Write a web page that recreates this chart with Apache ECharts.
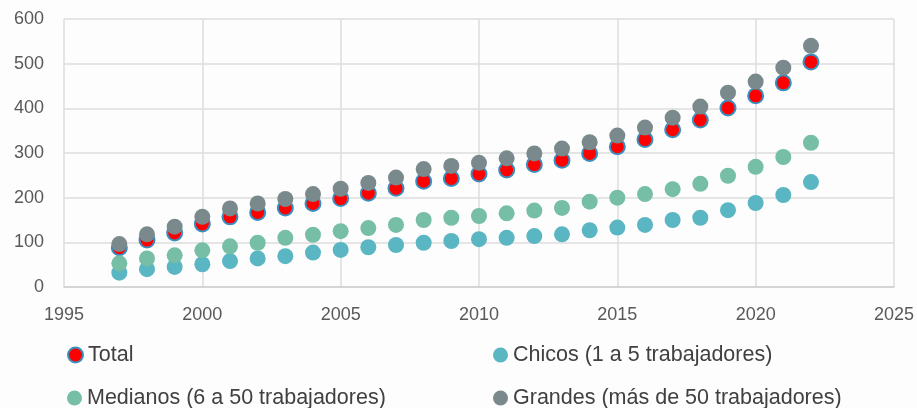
<!DOCTYPE html>
<html>
<head>
<meta charset="utf-8">
<script src="https://cdn.jsdelivr.net/npm/echarts@6/dist/echarts.min.js"></script>
<style>
  html, body { margin: 0; padding: 0; background: #fdfdfd; }
  #main { width: 917px; height: 408px; }
</style>
</head>
<body>
<div id="main"></div>
<script>
var years = [1997, 1998, 1999, 2000, 2001, 2002, 2003, 2004, 2005, 2006, 2007, 2008, 2009,
  2010, 2011, 2012, 2013, 2014, 2015, 2016, 2017, 2018, 2019, 2020, 2021, 2022];
var total = [88, 105, 121, 141, 157, 167, 177, 187, 198, 210, 221, 237, 243,
  253, 262, 274, 284, 299, 314, 330, 352, 374, 401, 428, 457, 504];
var chicos = [32, 40, 45, 51, 58, 64, 69, 77, 83, 89, 94, 99, 103,
  107, 110, 114, 118, 127, 133, 139, 150, 155, 172, 188, 206, 235];
var medianos = [53, 64, 71, 82, 91, 99, 110, 117, 125, 132, 139, 150, 155,
  159, 165, 171, 177, 191, 200, 208, 219, 231, 249, 269, 291, 323];
var grandes = [96, 118, 135, 157, 176, 187, 197, 208, 220, 233, 245, 264, 271,
  278, 288, 299, 310, 324, 339, 357, 379, 404, 435, 460, 491, 540];

var names = ['Total', 'Chicos (1 a 5 trabajadores)', 'Medianos (6 a 50 trabajadores)', 'Grandes (más de 50 trabajadores)'];

function pairs(vals) {
  return years.map(function (y, i) { return [y, vals[i]]; });
}

var chartDom = document.getElementById('main');
var myChart = echarts.init(chartDom);

// una leyenda por entrada, para fijar la posición de cada una
function leg(name, left, top) {
  return {
    left: left, top: top, icon: 'circle', itemWidth: 15, itemHeight: 15,
    textStyle: { color: '#404040', fontSize: 21.5, fontFamily: 'Liberation Sans, Arial, sans-serif' },
    data: [name]
  };
}

var option = {
  animation: false,
  backgroundColor: '#fdfdfd',
  grid: { left: 64, right: 23, top: 19, bottom: 121 },
  legend: [
    leg(names[0], 62, 339),
    leg(names[1], 488, 339),
    leg(names[2], 62, 382),
    leg(names[3], 488, 382)
  ],
  xAxis: {
    type: 'value', min: 1995, max: 2025, interval: 5,
    axisLine: { show: true, lineStyle: { color: '#d0d0d0', width: 1.5 } },
    axisTick: { show: false },
    axisLabel: {
      color: '#595959', fontSize: 18, margin: 19, fontFamily: 'Liberation Sans, Arial, sans-serif',
      formatter: function (v) { return String(v); }
    },
    splitLine: { show: true, lineStyle: { color: '#dcdcdc', width: 1.5 } }
  },
  yAxis: {
    type: 'value', min: 0, max: 600, interval: 100,
    axisLine: { show: false },
    axisTick: { show: false },
    axisLabel: { color: '#595959', fontSize: 18, margin: 20, fontFamily: 'Liberation Sans, Arial, sans-serif' },
    splitLine: { show: true, lineStyle: { color: '#dcdcdc', width: 1.5 } }
  },
  series: [
    {
      name: names[0], type: 'scatter', symbolSize: 15, data: pairs(total),
      itemStyle: { color: '#ff0000', borderColor: '#3a8fc0', borderWidth: 2, opacity: 1 }
    },
    {
      name: names[1], type: 'scatter', symbolSize: 16, data: pairs(chicos),
      itemStyle: { color: '#5ab6c2', opacity: 1 }
    },
    {
      name: names[2], type: 'scatter', symbolSize: 16, data: pairs(medianos),
      itemStyle: { color: '#76bea6', opacity: 1 }
    },
    {
      name: names[3], type: 'scatter', symbolSize: 16, data: pairs(grandes),
      itemStyle: { color: '#7a898b', opacity: 1 }
    }
  ]
};

myChart.setOption(option);
</script>
</body>
</html>
